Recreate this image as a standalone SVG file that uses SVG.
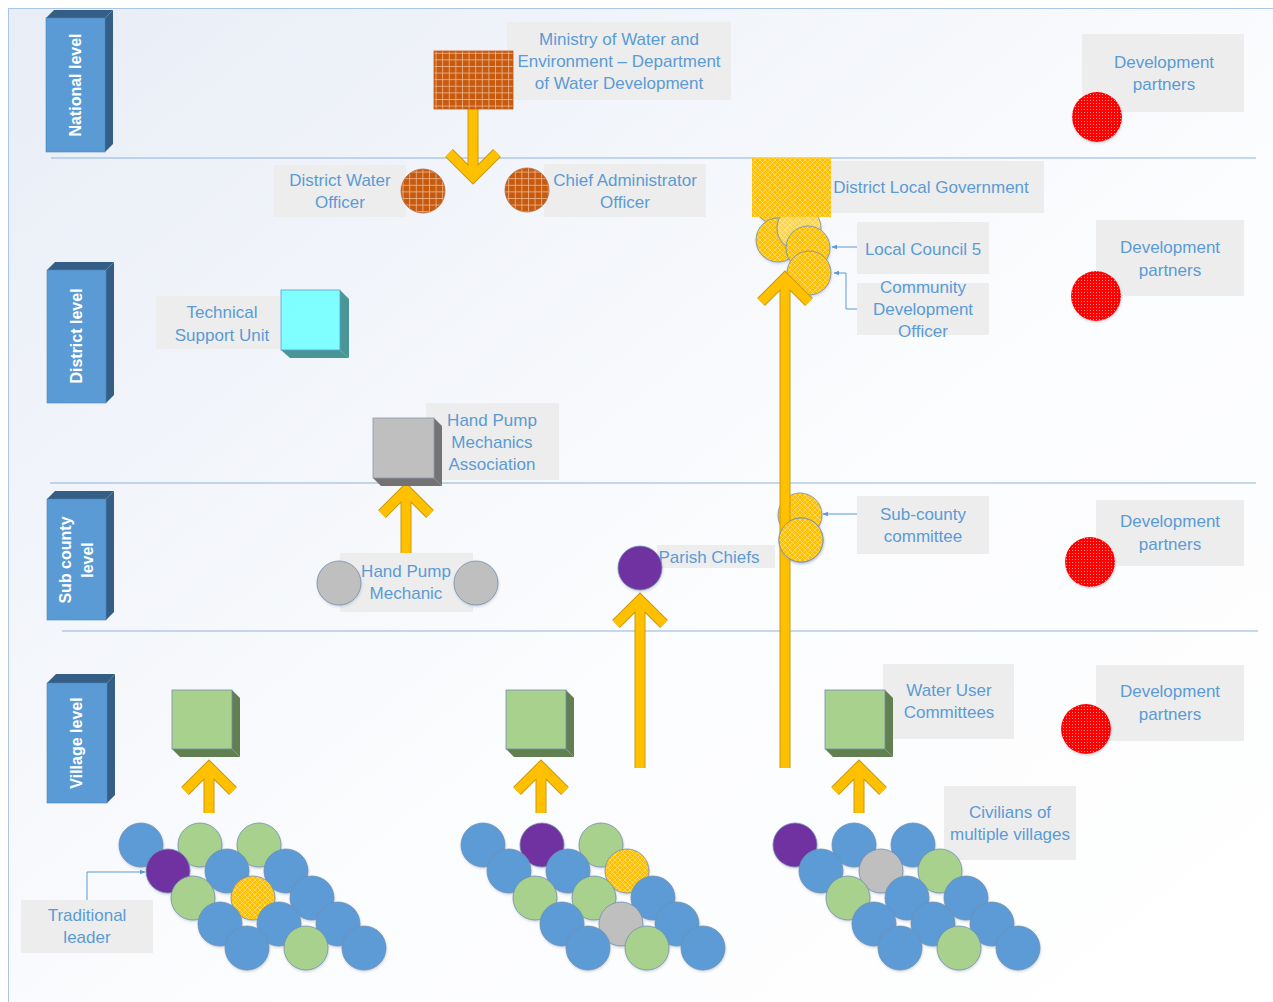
<svg xmlns="http://www.w3.org/2000/svg" width="1273" height="1002" viewBox="0 0 1273 1002">
  <defs>
    <linearGradient id="bg" x1="0" y1="0" x2="1" y2="1">
      <stop offset="0" stop-color="#e8edf6"/>
      <stop offset="0.55" stop-color="#fbfcfe"/>
      <stop offset="1" stop-color="#ffffff"/>
    </linearGradient>
    <pattern id="grid" width="6.6" height="6.6" patternUnits="userSpaceOnUse">
      <rect width="6.6" height="6.6" fill="#c55a11"/>
      <path d="M0 0.4H6.6M0.4 0V6.6" stroke="#f4b183" stroke-width="0.9"/>
    </pattern>
    <pattern id="hatch" width="5" height="5" patternUnits="userSpaceOnUse">
      <rect width="5" height="5" fill="#ffc000"/>
      <path d="M0 0L5 5M5 0L0 5" stroke="#ffe08a" stroke-width="0.7"/>
    </pattern>
    <pattern id="hatchLight" width="5" height="5" patternUnits="userSpaceOnUse">
      <rect width="5" height="5" fill="#ffd54d"/>
      <path d="M0 0L5 5M5 0L0 5" stroke="#ffeaa8" stroke-width="0.7"/>
    </pattern>
    <pattern id="dots" width="3" height="3" patternUnits="userSpaceOnUse">
      <rect width="3" height="3" fill="#ff0000"/>
      <circle cx="1.5" cy="1.5" r="0.55" fill="#ffb0b0"/>
    </pattern>
    <marker id="tip" viewBox="0 0 10 10" refX="9" refY="5" markerWidth="6" markerHeight="6" orient="auto">
      <path d="M0 1L10 5L0 9Z" fill="#5b9bd5"/>
    </marker>
    <filter id="soft" x="-20%" y="-20%" width="150%" height="150%">
      <feDropShadow dx="0.5" dy="1.5" stdDeviation="1.2" flood-color="#7f8fa6" flood-opacity="0.35"/>
    </filter>
  </defs>
  <style>
    .lbl { fill: #ededed; }
    .t { font-family: "Liberation Sans", Arial, sans-serif; font-size: 17px; fill: #5b9bd5; text-anchor: middle; }
    .lv { font-family: "Liberation Sans", Arial, sans-serif; font-size: 16px; font-weight: bold; fill: #ffffff; text-anchor: middle; }
    .sep { stroke: #8db3df; stroke-width: 1; }
    .lvf { fill: #5b9bd5; stroke: #4a86bd; stroke-width: 0.6; }
    .lvd { fill: #355e86; }
    .c { stroke: #6f8fb0; stroke-width: 0.8; filter: url(#soft); }
    .blue { fill: #5b9bd5; }
    .green { fill: #a9d18e; }
    .purple { fill: #7030a0; }
    .gray { fill: #bfbfbf; }
    .yel { fill: url(#hatch); }
    .yel2 { fill: url(#hatchLight); }
    .red { fill: url(#dots); stroke: none; }
    .ao { fill: none; stroke: #c89a10; stroke-width: 11; stroke-linejoin: miter; stroke-miterlimit: 4; }
    .ai { fill: none; stroke: #ffc000; stroke-width: 9; stroke-linejoin: miter; stroke-miterlimit: 4; }
    .link { fill: none; stroke: #5b9bd5; stroke-width: 1; marker-end: url(#tip); }
  </style>

  <!-- frame and background -->
  <rect x="8.5" y="8.5" width="1270" height="1000" fill="url(#bg)" stroke="#a9c6e8" stroke-width="1"/>

  <!-- level separators -->
  <g id="separators">
    <line class="sep" x1="51" y1="158" x2="1256" y2="158"/>
    <line class="sep" x1="50" y1="483" x2="1256" y2="483"/>
    <line class="sep" x1="62" y1="631" x2="1258" y2="631"/>
  </g>

  <!-- level boxes -->
  <g id="level-national">
    <polygon class="lvd" points="46,18 54,10 113,10 105,18"/>
    <polygon class="lvd" points="105,18 113,10 113,144 105,152"/>
    <rect class="lvf" x="46" y="18" width="59" height="134"/>
    <text class="lv" transform="translate(81,85) rotate(-90)">National level</text>
  </g>
  <g id="level-district">
    <polygon class="lvd" points="47,270 55,262 114,262 106,270"/>
    <polygon class="lvd" points="106,270 114,262 114,395 106,403"/>
    <rect class="lvf" x="47" y="270" width="59" height="133"/>
    <text class="lv" transform="translate(82,336) rotate(-90)">District level</text>
  </g>
  <g id="level-subcounty">
    <polygon class="lvd" points="47,499 55,491 114,491 106,499"/>
    <polygon class="lvd" points="106,499 114,491 114,612 106,620"/>
    <rect class="lvf" x="47" y="499" width="59" height="121"/>
    <text class="lv" transform="translate(71,560) rotate(-90)">Sub county</text>
    <text class="lv" transform="translate(93,560) rotate(-90)">level</text>
  </g>
  <g id="level-village">
    <polygon class="lvd" points="47,683 56,674 115,674 107,683"/>
    <polygon class="lvd" points="107,683 115,674 115,795 107,803"/>
    <rect class="lvf" x="47" y="683" width="60" height="120"/>
    <text class="lv" transform="translate(82,743) rotate(-90)">Village level</text>
  </g>

  <!-- connectors: thick yellow arrows and thin label pointers -->
  <g id="connectors">
    <g class="ao">
      <path d="M473 109V174M449 153L473 177L497 153"/>
      <path d="M406 553V493M382 514L406 490L430 514"/>
      <path d="M640 768V603M616 624L640 600L664 624"/>
      <path d="M209 813V770M185 791L209 767L233 791"/>
      <path d="M541 813V770M517 791L541 767L565 791"/>
      <path d="M859 813V770M835 791L859 767L883 791"/>
    </g>
    <g class="ai">
      <path d="M473 109V174M449 153L473 177L497 153"/>
      <path d="M406 553V493M382 514L406 490L430 514"/>
      <path d="M640 768V603M616 624L640 600L664 624"/>
      <path d="M209 813V770M185 791L209 767L233 791"/>
      <path d="M541 813V770M517 791L541 767L565 791"/>
      <path d="M859 813V770M835 791L859 767L883 791"/>
    </g>
    <path class="link" d="M857 247H832"/>
    <path class="link" d="M857 309H846V273H834"/>
    <path class="link" d="M857 514H823"/>
    <path class="link" d="M87 900V872H145"/>
  </g>

  <!-- national level -->
  <g id="ministry">
    <rect class="lbl" x="507" y="22" width="224" height="78"/>
    <rect x="434" y="51" width="79" height="58" fill="url(#grid)" stroke="#c55a11" stroke-width="0.8"/>
    <text class="t" x="619" y="45">Ministry of Water and</text>
    <text class="t" x="619" y="67">Environment – Department</text>
    <text class="t" x="619" y="89">of Water Development</text>
  </g>
  <g id="dev-partners-national">
    <rect class="lbl" x="1082" y="34" width="162" height="78"/>
    <text class="t" x="1164" y="68">Development</text>
    <text class="t" x="1164" y="90">partners</text>
    <circle class="c red" cx="1097" cy="117" r="25"/>
  </g>

  <!-- district level -->
  <g id="district-water-officer">
    <rect class="lbl" x="274" y="165" width="132" height="52"/>
    <text class="t" x="340" y="186">District Water</text>
    <text class="t" x="340" y="208">Officer</text>
    <circle cx="423" cy="191" r="22" fill="url(#grid)" stroke="#b8693a" stroke-width="0.8"/>
  </g>
  <g id="chief-administrator-officer">
    <rect class="lbl" x="544" y="164" width="162" height="53"/>
    <circle cx="527" cy="190" r="22" fill="url(#grid)" stroke="#b8693a" stroke-width="0.8"/>
    <text class="t" x="625" y="186">Chief Administrator</text>
    <text class="t" x="625" y="208">Officer</text>
  </g>
  <g id="district-local-government">
    <rect class="lbl" x="831" y="161" width="213" height="52"/>
    <circle class="c yel" cx="776" cy="202" r="22"/>
    <circle class="c yel" cx="778" cy="240" r="22"/>
    <circle class="c yel2" cx="799" cy="228" r="22"/>
    <circle class="c yel" cx="808" cy="248" r="22"/>
    <circle class="c yel" cx="809" cy="273" r="22"/>
    <rect x="752" y="158" width="79" height="59" fill="url(#hatch)"/>
    <text class="t" x="931" y="193">District Local Government</text>
  </g>
  <g id="local-council-5">
    <rect class="lbl" x="857" y="222" width="132" height="52"/>
    <text class="t" x="923" y="255">Local Council 5</text>
  </g>
  <g id="community-development-officer">
    <rect class="lbl" x="857" y="283" width="132" height="52"/>
    <text class="t" x="923" y="293">Community</text>
    <text class="t" x="923" y="315">Development</text>
    <text class="t" x="923" y="337">Officer</text>
  </g>
  <g id="dev-partners-district">
    <rect class="lbl" x="1096" y="220" width="148" height="76"/>
    <text class="t" x="1170" y="253">Development</text>
    <text class="t" x="1170" y="276">partners</text>
    <circle class="c red" cx="1096" cy="296" r="25"/>
  </g>
  <g id="technical-support-unit">
    <rect class="lbl" x="156" y="296" width="124" height="53"/>
    <text class="t" x="222" y="318">Technical</text>
    <text class="t" x="222" y="341">Support Unit</text>
    <polygon points="340,290 349,299 349,358 340,350" fill="#4a9696"/>
    <polygon points="281,350 340,350 349,358 290,358" fill="#4a9696"/>
    <rect x="281" y="290" width="59" height="60" fill="#7fffff" stroke="#5b9bd5" stroke-width="0.8"/>
  </g>
  <g id="hand-pump-mechanics-association">
    <rect class="lbl" x="426" y="403" width="133" height="77"/>
    <polygon points="434,418 442,426 442,486 434,478" fill="#737373"/>
    <polygon points="373,478 434,478 442,486 381,486" fill="#737373"/>
    <rect x="373" y="418" width="61" height="60" fill="#bfbfbf" stroke="#8c9aab" stroke-width="0.8"/>
    <text class="t" x="492" y="426">Hand Pump</text>
    <text class="t" x="492" y="448">Mechanics</text>
    <text class="t" x="492" y="470">Association</text>
  </g>

  <!-- sub county level -->
  <g id="hand-pump-mechanic">
    <rect class="lbl" x="340" y="553" width="133" height="59"/>
    <circle class="c gray" cx="339" cy="583" r="22"/>
    <circle class="c gray" cx="476" cy="583" r="22"/>
    <text class="t" x="406" y="577">Hand Pump</text>
    <text class="t" x="406" y="599">Mechanic</text>
  </g>
  <g id="parish-chiefs">
    <rect class="lbl" x="657" y="545" width="118" height="23"/>
    <text class="t" x="709" y="563">Parish Chiefs</text>
    <circle class="c purple" cx="640" cy="568" r="22"/>
  </g>
  <g id="sub-county-committee">
    <rect class="lbl" x="857" y="496" width="132" height="58"/>
    <circle class="c yel" cx="800" cy="515" r="22"/>
    <circle class="c yel" cx="801" cy="540" r="22"/>
    <text class="t" x="923" y="520">Sub-county</text>
    <text class="t" x="923" y="542">committee</text>
  </g>
  <g id="dev-partners-subcounty">
    <rect class="lbl" x="1096" y="500" width="148" height="66"/>
    <text class="t" x="1170" y="527">Development</text>
    <text class="t" x="1170" y="550">partners</text>
    <circle class="c red" cx="1090" cy="562" r="25"/>
  </g>

  <!-- village level -->
  <g id="wuc-left">
    <polygon points="232,690 240,698 240,757 232,749" fill="#627f52"/>
    <polygon points="172,749 232,749 240,757 180,757" fill="#627f52"/>
    <rect x="172" y="690" width="60" height="59" fill="#a9d18e" stroke="#6f8fb0" stroke-width="0.8"/>
  </g>
  <g id="wuc-middle">
    <polygon points="566,690 574,698 574,757 566,749" fill="#627f52"/>
    <polygon points="506,749 566,749 574,757 514,757" fill="#627f52"/>
    <rect x="506" y="690" width="60" height="59" fill="#a9d18e" stroke="#6f8fb0" stroke-width="0.8"/>
  </g>
  <g id="wuc-right">
    <rect class="lbl" x="883" y="664" width="131" height="75"/>
    <polygon points="885,690 893,698 893,757 885,749" fill="#627f52"/>
    <polygon points="825,749 885,749 893,757 833,757" fill="#627f52"/>
    <rect x="825" y="690" width="60" height="59" fill="#a9d18e" stroke="#6f8fb0" stroke-width="0.8"/>
    <text class="t" x="949" y="696">Water User</text>
    <text class="t" x="949" y="718">Committees</text>
  </g>
  <g id="dev-partners-village">
    <rect class="lbl" x="1096" y="665" width="148" height="76"/>
    <text class="t" x="1170" y="697">Development</text>
    <text class="t" x="1170" y="720">partners</text>
    <circle class="c red" cx="1086" cy="729" r="25"/>
  </g>
  <g id="traditional-leader">
    <rect class="lbl" x="21" y="900" width="132" height="53"/>
    <text class="t" x="87" y="921">Traditional</text>
    <text class="t" x="87" y="943">leader</text>
  </g>
  <g id="civilians-label">
    <rect class="lbl" x="944" y="786" width="132" height="74"/>
    <text class="t" x="1010" y="818">Civilians of</text>
    <text class="t" x="1010" y="840">multiple villages</text>
  </g>

  <!-- village civilians, three clusters -->
  <g id="civilians-left">
    <circle class="c blue" cx="141" cy="845" r="22"/>
    <circle class="c green" cx="200" cy="845" r="22"/>
    <circle class="c green" cx="259" cy="845" r="22"/>
    <circle class="c purple" cx="168" cy="871" r="22"/>
    <circle class="c blue" cx="227" cy="871" r="22"/>
    <circle class="c blue" cx="286" cy="871" r="22"/>
    <circle class="c green" cx="193" cy="898" r="22"/>
    <circle class="c yel" cx="253" cy="898" r="22"/>
    <circle class="c blue" cx="312" cy="898" r="22"/>
    <circle class="c blue" cx="220" cy="924" r="22"/>
    <circle class="c blue" cx="279" cy="924" r="22"/>
    <circle class="c blue" cx="338" cy="924" r="22"/>
    <circle class="c blue" cx="247" cy="948" r="22"/>
    <circle class="c green" cx="306" cy="948" r="22"/>
    <circle class="c blue" cx="364" cy="948" r="22"/>
  </g>
  <g id="civilians-middle">
    <circle class="c blue" cx="483" cy="845" r="22"/>
    <circle class="c purple" cx="542" cy="845" r="22"/>
    <circle class="c green" cx="601" cy="845" r="22"/>
    <circle class="c blue" cx="509" cy="871" r="22"/>
    <circle class="c blue" cx="568" cy="871" r="22"/>
    <circle class="c yel" cx="627" cy="871" r="22"/>
    <circle class="c green" cx="535" cy="898" r="22"/>
    <circle class="c green" cx="594" cy="898" r="22"/>
    <circle class="c blue" cx="653" cy="898" r="22"/>
    <circle class="c blue" cx="562" cy="924" r="22"/>
    <circle class="c gray" cx="621" cy="924" r="22"/>
    <circle class="c blue" cx="677" cy="924" r="22"/>
    <circle class="c blue" cx="588" cy="948" r="22"/>
    <circle class="c green" cx="647" cy="948" r="22"/>
    <circle class="c blue" cx="703" cy="948" r="22"/>
  </g>
  <g id="civilians-right">
    <circle class="c purple" cx="795" cy="845" r="22"/>
    <circle class="c blue" cx="854" cy="845" r="22"/>
    <circle class="c blue" cx="913" cy="845" r="22"/>
    <circle class="c blue" cx="821" cy="871" r="22"/>
    <circle class="c gray" cx="881" cy="871" r="22"/>
    <circle class="c green" cx="940" cy="871" r="22"/>
    <circle class="c green" cx="848" cy="898" r="22"/>
    <circle class="c blue" cx="907" cy="898" r="22"/>
    <circle class="c blue" cx="966" cy="898" r="22"/>
    <circle class="c blue" cx="874" cy="924" r="22"/>
    <circle class="c blue" cx="933" cy="924" r="22"/>
    <circle class="c blue" cx="992" cy="924" r="22"/>
    <circle class="c blue" cx="900" cy="948" r="22"/>
    <circle class="c green" cx="959" cy="948" r="22"/>
    <circle class="c blue" cx="1018" cy="948" r="22"/>
  </g>

  <!-- long arrow from villages to district, drawn over the lower council circles -->
  <g id="district-arrow">
    <path class="ao" d="M785 768V281M761 302L785 278L809 302"/>
    <path class="ai" d="M785 768V281M761 302L785 278L809 302"/>
    <circle class="c yel" cx="801" cy="540" r="22"/>
  </g>
</svg>
